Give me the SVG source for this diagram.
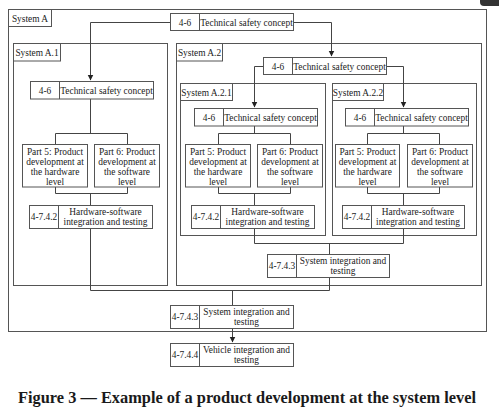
<svg xmlns="http://www.w3.org/2000/svg" width="499" height="411" viewBox="0 0 499 411">
<defs>
<style>
.b{fill:#fff;stroke:#555;stroke-width:1}
.f{fill:none;stroke:#555;stroke-width:1}
.c{fill:none;stroke:#444;stroke-width:1}
text{font-family:"Liberation Serif","Times New Roman",serif;font-size:9.4px;fill:#222}
.m{text-anchor:middle}
.t{font-size:17px;font-weight:bold;fill:#1a1a1a}
</style>
<marker id="ah" markerWidth="6" markerHeight="7" refX="5.5" refY="3.5" orient="auto" markerUnits="userSpaceOnUse">
<path d="M0,0.5 L6,3.5 L0,6.5 Z" fill="#222"/>
</marker>
</defs>
<rect width="499" height="411" fill="#fff"/>
<path d="M480,0 H499 V6 H484 Q480,6 480,2 Z" fill="#333"/>

<g id="systemA"><rect class="f" x="8.5" y="9.5" width="478" height="322"/><rect class="b" x="8.5" y="9.5" width="43" height="17"/><text x="30" y="21.5" class="m">System A</text></g>
<g id="systemA1"><rect class="f" x="13.5" y="43.5" width="154" height="242"/><rect class="b" x="13.5" y="43.5" width="47" height="17.5"/><text x="37" y="55.8" class="m">System A.1</text></g>
<g id="systemA2"><rect class="f" x="176.5" y="43.5" width="305" height="242"/><rect class="b" x="176.5" y="43.5" width="46" height="17.5"/><text x="199.5" y="55.8" class="m">System A.2</text></g>
<g id="systemA21"><rect class="f" x="180.5" y="83.5" width="145" height="152"/><rect class="b" x="180.5" y="83.5" width="52" height="17"/><text x="206.5" y="95.5" class="m">System A.2.1</text></g>
<g id="systemA22"><rect class="f" x="332.5" y="83.5" width="144" height="152"/><rect class="b" x="332.5" y="83.5" width="51" height="17"/><text x="358" y="95.5" class="m">System A.2.2</text></g>

<g id="connectors">
<path class="c" d="M170,22.5 H90.5 V80" marker-end="url(#ah)"/>
<path class="c" d="M293,22.5 H331.5 V56" marker-end="url(#ah)"/>
<path class="c" d="M263,66.5 H254.5 V107" marker-end="url(#ah)"/>
<path class="c" d="M386,66.5 H403.5 V107" marker-end="url(#ah)"/>
<path class="c" d="M90.5,99 V133.5 M55.5,144 V133.5 H127.5 V144 M55.5,187 V193.5 H127.5 V187 M90.5,193.5 V205 M90.5,228 V290.5"/>
<path class="c" d="M254.5,126 V133.5 M218.5,144 V133.5 H290.5 V144 M218.5,187 V193.5 H290.5 V187 M254.5,193.5 V205 M254.5,228 V243.5"/>
<path class="c" d="M403.5,126 V133.5 M367.5,144 V133.5 H439.5 V144 M367.5,187 V193.5 H439.5 V187 M403.5,193.5 V205 M403.5,228 V243.5"/>
<path class="c" d="M254.5,243.5 H403.5 M329.5,243.5 V254 M329.5,277 V290.5 H90.5 M232.5,290.5 V305"/>
<path class="c" d="M232.5,328 V342" marker-end="url(#ah)"/>
</g>

<g id="tsc-top"><rect class="b" x="170.5" y="13.5" width="123" height="17"/><path class="f" d="M199.5,13.5 V30.5"/><text x="185" y="25.5" class="m">4-6</text><text x="246.5" y="25.5" class="m">Technical safety concept</text></g>
<g id="tsc-a1"><rect class="b" x="30.5" y="81.5" width="123" height="17.5"/><path class="f" d="M59.5,81.5 V99"/><text x="45" y="93.5" class="m">4-6</text><text x="106.5" y="93.5" class="m">Technical safety concept</text></g>
<g id="tsc-a2"><rect class="b" x="263.5" y="57.5" width="123" height="17"/><path class="f" d="M292.5,57.5 V74.5"/><text x="278" y="69.5" class="m">4-6</text><text x="339.5" y="69.5" class="m">Technical safety concept</text></g>
<g id="tsc-a21"><rect class="b" x="194.5" y="108.5" width="123" height="17.5"/><path class="f" d="M223.5,108.5 V126"/><text x="209" y="120.5" class="m">4-6</text><text x="270.5" y="120.5" class="m">Technical safety concept</text></g>
<g id="tsc-a22"><rect class="b" x="345.5" y="108.5" width="123" height="17.5"/><path class="f" d="M374.5,108.5 V126"/><text x="360" y="120.5" class="m">4-6</text><text x="421.5" y="120.5" class="m">Technical safety concept</text></g>

<g id="p5-a1"><rect class="b" x="22.5" y="144.5" width="65" height="42.5"/><text class="m" x="55" y="154.5">Part 5: Product<tspan x="55" dy="10.2">development at</tspan><tspan x="55" dy="10.2">the hardware</tspan><tspan x="55" dy="10.2">level</tspan></text></g>
<g id="p6-a1"><rect class="b" x="94.5" y="144.5" width="65" height="42.5"/><text class="m" x="127" y="154.5">Part 6: Product<tspan x="127" dy="10.2">development at</tspan><tspan x="127" dy="10.2">the software</tspan><tspan x="127" dy="10.2">level</tspan></text></g>
<g id="p5-a21"><rect class="b" x="185.5" y="144.5" width="65" height="42.5"/><text class="m" x="218" y="154.5">Part 5: Product<tspan x="218" dy="10.2">development at</tspan><tspan x="218" dy="10.2">the hardware</tspan><tspan x="218" dy="10.2">level</tspan></text></g>
<g id="p6-a21"><rect class="b" x="257.5" y="144.5" width="65" height="42.5"/><text class="m" x="290" y="154.5">Part 6: Product<tspan x="290" dy="10.2">development at</tspan><tspan x="290" dy="10.2">the software</tspan><tspan x="290" dy="10.2">level</tspan></text></g>
<g id="p5-a22"><rect class="b" x="335.5" y="144.5" width="64" height="42.5"/><text class="m" x="367.5" y="154.5">Part 5: Product<tspan x="367.5" dy="10.2">development at</tspan><tspan x="367.5" dy="10.2">the hardware</tspan><tspan x="367.5" dy="10.2">level</tspan></text></g>
<g id="p6-a22"><rect class="b" x="407.5" y="144.5" width="65" height="42.5"/><text class="m" x="440" y="154.5">Part 6: Product<tspan x="440" dy="10.2">development at</tspan><tspan x="440" dy="10.2">the software</tspan><tspan x="440" dy="10.2">level</tspan></text></g>

<g id="hwsw-a1"><rect class="b" x="29.5" y="205.5" width="123" height="23"/><path class="f" d="M58.5,205.5 V228.5"/><text x="44" y="220" class="m">4-7.4.2</text><text class="m" x="105.5" y="214.5">Hardware-software<tspan x="105.5" dy="10">integration and testing</tspan></text></g>
<g id="hwsw-a21"><rect class="b" x="191.5" y="205.5" width="123" height="23"/><path class="f" d="M220.5,205.5 V228.5"/><text x="206" y="220" class="m">4-7.4.2</text><text class="m" x="267.5" y="214.5">Hardware-software<tspan x="267.5" dy="10">integration and testing</tspan></text></g>
<g id="hwsw-a22"><rect class="b" x="342.5" y="205.5" width="122" height="23"/><path class="f" d="M371.5,205.5 V228.5"/><text x="357" y="220" class="m">4-7.4.2</text><text class="m" x="418" y="214.5">Hardware-software<tspan x="418" dy="10">integration and testing</tspan></text></g>

<g id="sysint-a2"><rect class="b" x="267.5" y="254.5" width="122" height="23"/><path class="f" d="M296.5,254.5 V277.5"/><text x="282" y="269" class="m">4-7.4.3</text><text class="m" x="343" y="263.5">System integration and<tspan x="343" dy="10">testing</tspan></text></g>
<g id="sysint-a"><rect class="b" x="170.5" y="305.5" width="123" height="23"/><path class="f" d="M199.5,305.5 V328.5"/><text x="185" y="320" class="m">4-7.4.3</text><text class="m" x="246.5" y="314.5">System integration and<tspan x="246.5" dy="10">testing</tspan></text></g>
<g id="vehicle"><rect class="b" x="170.5" y="343.5" width="123" height="23"/><path class="f" d="M199.5,343.5 V366.5"/><text x="185" y="358" class="m">4-7.4.4</text><text class="m" x="246.5" y="352.5">Vehicle integration and<tspan x="246.5" dy="10">testing</tspan></text></g>

<text class="t" x="18" y="403" textLength="458" lengthAdjust="spacingAndGlyphs">Figure 3 — Example of a product development at the system level</text>
</svg>
